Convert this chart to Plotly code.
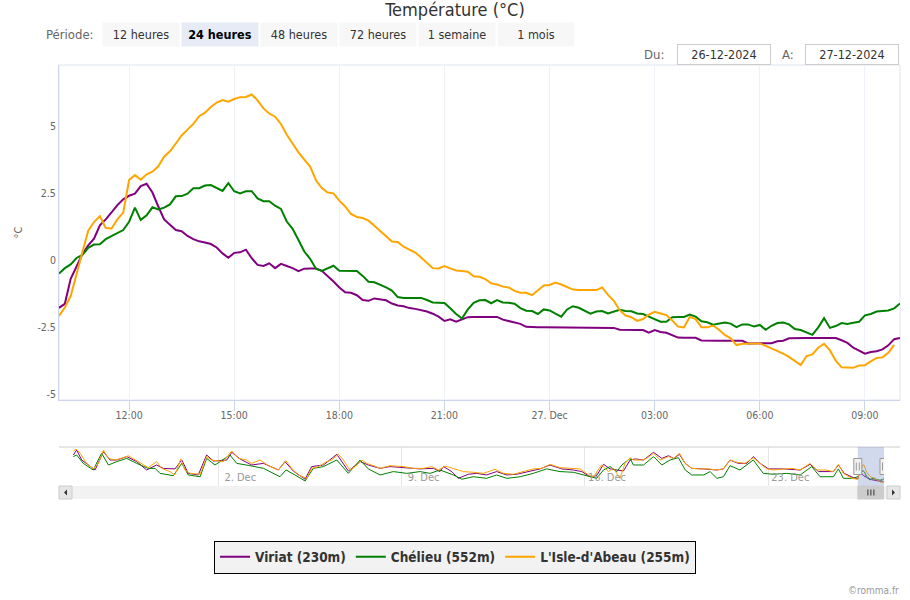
import pandas as pd
import plotly.graph_objects as go

# ---------------- data ----------------
start = pd.Timestamp("2024-12-26 10:00")
end = pd.Timestamp("2024-12-27 10:00")
times = pd.date_range(start, periods=145, freq="10min")

viriat = [-1.78, -1.63, -0.70, -0.26, 0.22, 0.55, 0.80, 1.30, 1.52, 1.78,
          2.05, 2.27, 2.40, 2.48, 2.76, 2.85, 2.52, 2.00, 1.52, 1.32,
          1.12, 1.08, 0.90, 0.78, 0.70, 0.66, 0.60, 0.47, 0.25, 0.09,
          0.27, 0.29, 0.39, 0.07, -0.18, -0.22, -0.12, -0.30, -0.14, -0.22,
          -0.30, -0.41, -0.32, -0.31, -0.31, -0.40, -0.59, -0.80, -1.02, -1.20,
          -1.22, -1.31, -1.49, -1.52, -1.43, -1.46, -1.50, -1.62, -1.69, -1.72,
          -1.79, -1.82, -1.87, -1.92, -2.00, -2.11, -2.27, -2.21, -2.30, -2.20,
          -2.13, -2.12, -2.12, -2.12, -2.12, -2.12, -2.22, -2.28, -2.33, -2.38,
          -2.49, -2.51, -2.51, -2.51, -2.51, -2.51, -2.51, -2.51, -2.51, -2.51,
          -2.51, -2.51, -2.51, -2.51, -2.51, -2.53, -2.60, -2.61, -2.61, -2.61,
          -2.61, -2.71, -2.61, -2.68, -2.71, -2.79, -2.89, -2.90, -2.90, -2.90,
          -3.00, -3.01, -3.01, -3.01, -3.01, -3.01, -3.01, -3.01, -3.11, -3.11,
          -3.11, -3.11, -3.10, -3.03, -3.01, -2.92, -2.91, -2.91, -2.91, -2.91,
          -2.91, -2.91, -2.91, -2.91, -2.99, -3.09, -3.27, -3.39, -3.49, -3.43,
          -3.40, -3.33, -3.18, -2.95, -2.91]

chelieu = [-0.50, -0.30, -0.16, 0.08, 0.19, 0.46, 0.58, 0.59, 0.78, 0.90,
           1.00, 1.12, 1.43, 1.96, 1.50, 1.67, 1.97, 1.89, 1.96, 2.08,
           2.38, 2.39, 2.48, 2.68, 2.68, 2.78, 2.80, 2.70, 2.58, 2.87,
           2.57, 2.49, 2.57, 2.57, 2.30, 2.20, 2.20, 2.03, 1.91, 1.44,
           1.17, 0.75, 0.32, 0.05, -0.32, -0.40, -0.30, -0.21, -0.40, -0.41,
           -0.41, -0.41, -0.59, -0.81, -0.83, -0.92, -1.02, -1.14, -1.38, -1.41,
           -1.41, -1.41, -1.41, -1.49, -1.58, -1.59, -1.60, -1.80, -2.01, -2.18,
           -1.84, -1.59, -1.50, -1.49, -1.61, -1.49, -1.58, -1.59, -1.63, -1.79,
           -1.89, -1.90, -2.01, -1.84, -1.88, -2.00, -2.11, -1.84, -1.72, -1.78,
           -1.88, -2.00, -1.92, -1.90, -1.99, -1.91, -1.85, -1.90, -1.91, -1.99,
           -2.01, -2.11, -2.21, -2.30, -2.30, -2.13, -2.12, -2.12, -2.03, -2.11,
           -2.28, -2.32, -2.41, -2.37, -2.33, -2.37, -2.50, -2.40, -2.40, -2.48,
           -2.42, -2.60, -2.45, -2.35, -2.33, -2.40, -2.57, -2.61, -2.69, -2.79,
           -2.51, -2.17, -2.53, -2.46, -2.35, -2.38, -2.34, -2.30, -2.06, -2.01,
           -1.92, -1.90, -1.88, -1.80, -1.62]

isle = [-2.08, -1.77, -1.34, -0.56, 0.28, 1.10, 1.42, 1.64, 1.20, 1.18,
        1.52, 1.77, 2.99, 3.17, 3.00, 3.20, 3.30, 3.50, 3.86, 4.06,
        4.35, 4.65, 4.87, 5.08, 5.37, 5.50, 5.71, 5.88, 5.97, 5.91,
        6.01, 6.08, 6.09, 6.18, 5.96, 5.66, 5.47, 5.35, 5.08, 4.68,
        4.35, 4.02, 3.75, 3.49, 2.98, 2.69, 2.52, 2.49, 2.22, 2.00,
        1.72, 1.61, 1.57, 1.47, 1.28, 1.08, 0.90, 0.69, 0.68, 0.50,
        0.39, 0.28, 0.10, -0.09, -0.30, -0.31, -0.22, -0.31, -0.39, -0.41,
        -0.43, -0.60, -0.62, -0.71, -0.87, -0.91, -0.99, -1.02, -1.15, -1.22,
        -1.22, -1.31, -1.12, -0.95, -0.93, -0.84, -0.91, -1.00, -1.10, -1.12,
        -1.12, -1.12, -1.12, -1.02, -1.30, -1.52, -1.87, -2.07, -2.13, -2.27,
        -2.20, -2.03, -1.93, -1.99, -2.05, -2.25, -2.48, -2.51, -2.12, -2.20,
        -2.51, -2.51, -2.44, -2.60, -2.79, -2.92, -3.17, -3.12, -3.11, -3.11,
        -3.11, -3.20, -3.29, -3.38, -3.49, -3.61, -3.78, -3.92, -3.58, -3.52,
        -3.27, -3.12, -3.37, -3.75, -4.00, -4.02, -4.02, -3.93, -3.92, -3.78,
        -3.65, -3.63, -3.46, -3.16, None]

series_names = ["Viriat (230m)", "Chélieu (552m)", "L'Isle-d'Abeau (255m)"]
series_colors = ["#800080", "#008000", "#FFA500"]

tick_times = ["2024-12-26 12:00", "2024-12-26 15:00", "2024-12-26 18:00",
              "2024-12-26 21:00", "2024-12-27 00:00", "2024-12-27 03:00",
              "2024-12-27 06:00", "2024-12-27 09:00"]
tick_labels = ["12:00", "15:00", "18:00", "21:00", "27. Dec", "03:00", "06:00", "09:00"]
y_ticks = [-5, -2.5, 0, 2.5, 5]
y_labels = ["-5", "-2.5", "0", "2.5", "5"]

# navigator (previous month), day offsets from 26 Nov 10:00
nav_start = pd.Timestamp("2024-11-26 10:00")
nav_viriat_d = [0.05, 0.18, 0.37, 0.88, 1.20, 1.45, 1.71, 2.09, 2.47, 2.85, 3.23, 3.49, 3.93, 4.19, 4.44,
                4.82, 5.14, 5.40, 5.91, 6.10, 6.41, 6.86, 7.31, 7.88, 8.13, 8.45, 8.90, 9.15, 9.60, 10.11,
                10.55, 11.00, 11.31, 11.76, 12.14, 12.78, 13.29, 13.80, 14.05, 14.18, 14.50, 14.75, 15.13,
                15.45, 15.83, 16.21, 16.60, 16.98, 17.42, 17.87, 18.25, 18.70, 19.14, 19.46, 19.78, 20.03,
                20.29, 20.54, 20.80, 21.05, 21.31,
                21.50, 21.82, 22.20, 22.52, 22.77, 22.97, 23.19, 23.41, 23.66, 24.11, 24.62, 24.87, 25.12,
                25.44, 25.76, 26.01, 26.27, 26.59, 27.16, 27.80, 28.18, 28.50, 29.07, 29.26, 29.48, 29.83]
nav_viriat_v = [11.6, 14.4, 8.8, 3.2, 13.5, 8.8, 8.8, 10.7, 7.9, 3.2, 6.0, 4.1, 3.8, 8.8, 1.3,
                0.4, 11.6, 8.2, 8.8, 13.1, 9.4, 6.0, 6.9, 3.2, 7.9, 2.6, -2.0, 5.1, 6.0, 12.0,
                2.6, 7.9, 6.0, 4.1, 5.1, 4.5, 3.8, 4.1, 2.3, 5.1, 2.3, -1.5, 0.8,
                1.3, 0.4, 2.3, 0.4, 0.8, 2.3, 3.8, 6.0, 3.8, 3.2, 2.3, -0.6, 0.0,
                6.4, 3.8, 3.2, 2.6, 8.8,
                9.4, 8.8, 13.1, 9.7, 11.2, 9.7, 12.0, 6.9, 4.1, 3.8, 3.2, 3.8, 8.8,
                6.9, 6.9, 10.7, 6.9, 3.8, 3.8, 3.2, 6.4, 2.3, 2.3, 6.0, 1.3, -1.1]

nav_chelieu_d = [0.05, 0.18, 0.43, 0.81, 1.13, 1.39, 1.71, 2.09, 2.47, 2.91, 3.17, 3.36, 3.87, 4.19, 4.44,
                 4.89, 5.14, 5.46, 6.03, 6.29, 6.80, 7.31, 7.94, 8.17, 8.51, 8.90, 9.21, 9.60, 10.11,
                 10.55, 11.00, 11.31, 11.76, 12.27, 12.78, 13.29, 13.67, 14.05, 14.56, 14.88, 15.32, 15.83,
                 16.21, 16.60, 17.11, 17.61, 18.12, 18.63, 19.14, 19.65, 20.03, 20.29, 20.54, 20.80, 20.99, 21.31,
                 21.43, 21.82, 22.20, 22.52, 22.83, 23.15, 23.41, 23.66, 24.11, 24.36, 24.62, 24.87, 25.12,
                 25.50, 26.01, 26.39, 26.77, 27.29, 27.80, 28.24, 28.56, 29.07, 29.26, 29.45, 29.83]
nav_chelieu_v = [10.7, 11.6, 6.9, 3.2, 12.6, 6.0, 7.9, 9.7, 6.9, 4.1, 4.1, 1.3, 0.0, 6.9, 0.4,
                 -0.6, 9.7, 6.0, 11.6, 6.9, 5.6, 4.1, -0.6, 3.2, 0.4, -3.0, 4.1, 5.1, 8.8,
                 1.3, 8.8, 3.8, 0.4, 2.3, 1.3, 2.3, 1.3, 3.2, 0.4, -2.0, -0.6, -1.5,
                 0.4, -1.5, -0.6, 1.3, 3.8, 2.3, 1.9, 0.0, -1.5, 3.2, 5.1, 2.3, 6.0, 9.7,
                 6.0, 6.0, 10.7, 6.0, 8.8, 10.1, 3.2, 0.4, 0.4, 2.3, -1.5, -0.6, 5.6,
                 3.2, 8.8, 1.3, 0.8, 1.3, 0.4, 5.1, -0.6, -0.6, 3.8, -1.5, -1.5]

nav_isle_d = [0.05, 0.15, 0.31, 0.56, 0.81, 1.01, 1.20, 1.39, 1.64, 1.90, 2.15, 2.41, 2.66, 2.91, 3.23,
              3.42, 3.74, 3.93, 4.15, 4.31, 4.51, 4.89, 5.14, 5.33, 5.78, 6.10, 6.35, 6.67, 6.86, 7.18,
              7.50, 7.88, 8.17, 8.39, 8.64, 8.96, 9.15, 9.41, 9.72, 9.91, 10.17,
              10.36, 10.61, 10.81, 11.06, 11.25, 11.51, 11.76, 12.14, 12.65, 13.03, 13.41, 13.73, 13.99,
              14.24, 14.56, 14.94, 15.32, 15.71, 16.15, 16.47, 16.85, 17.23, 17.61, 17.93, 18.25, 18.63,
              19.02, 19.40, 19.72, 19.91, 20.22, 20.48, 20.67, 20.92, 21.11, 21.31,
              21.43, 21.75, 21.94, 22.20, 22.45, 22.77, 22.97, 23.19, 23.41, 23.66, 23.98, 24.29, 24.62,
              24.87, 25.12, 25.38, 25.69, 26.01, 26.27, 26.52, 26.77, 27.16, 27.48, 27.80, 28.18, 28.43,
              28.75, 29.07, 29.26, 29.45, 29.77]
nav_isle_v = [13.5, 15.0, 12.6, 6.9, 3.8, 6.9, 14.4, 9.7, 8.8, 9.7, 11.2, 8.8, 6.4, 4.5, 7.9,
              4.1, 2.3, 0.4, 9.4, 3.2, 1.3, 0.8, 10.7, 8.8, 7.9, 13.9, 9.7, 8.8, 6.9, 8.8,
              5.6, 3.2, 8.3, 4.1, 0.4, -1.5, 4.1, 5.1, 7.9, 8.8, 12.0,
              8.8, 3.2, 5.1, 8.8, 6.9, 5.6, 4.1, 5.6, 5.1, 4.1, 4.1, 5.1, 3.2,
              5.4, 3.8, 2.3, 1.9, 1.3, 3.6, 1.3, 0.8, 2.3, 3.8, 4.1, 6.4, 4.5,
              4.1, 3.8, 0.4, -0.6, 6.0, 2.3, 4.1, -1.5, 6.9, 10.1,
              8.8, 8.8, 9.7, 12.6, 8.8, 10.7, 9.7, 12.6, 6.9, 4.1, 3.8, 3.8, 3.2,
              3.8, 8.8, 7.5, 6.9, 10.1, 6.9, 3.8, 3.2, 3.8, 4.1, 3.2, 6.9, 3.2,
              3.2, 2.3, 6.4, 1.3, -1.5]

nav_ticks = ["2024-12-02", "2024-12-09", "2024-12-16", "2024-12-23"]
nav_labels = ["2. Dec", "9. Dec", "16. Dec", "23. Dec"]

buttons = ["12 heures", "24 heures", "48 heures", "72 heures", "1 semaine", "1 mois"]
selected_button = "24 heures"

# ---------------- layout helpers ----------------
W, H = 910, 600
ML, MR, MT, MB = 59, 10, 65, 101
PW, PH = W - ML - MR, H - MT - MB


def px(x):
    return (x - ML) / PW


def py(y):
    return (H - MB - y) / PH


FONT = "DejaVu Sans Condensed, DejaVu Sans, sans-serif"

fig = go.Figure()

main_series = [viriat, chelieu, isle]
nav_series = [(nav_viriat_d, nav_viriat_v), (nav_chelieu_d, nav_chelieu_v), (nav_isle_d, nav_isle_v)]

for name, color, vals in zip(series_names, series_colors, main_series):
    fig.add_trace(go.Scatter(x=times, y=vals, mode="lines", name="<b>%s</b>" % name,
                             line=dict(color=color, width=2), xaxis="x", yaxis="y"))

for name, color, (d, v), vals in zip(series_names, series_colors, nav_series, main_series):
    nx = [nav_start + pd.Timedelta(days=k) for k in d] + list(times)
    ny = list(v) + list(vals)
    fig.add_trace(go.Scatter(x=nx, y=ny, mode="lines", line=dict(color=color, width=1),
                             showlegend=False, hoverinfo="skip", xaxis="x2", yaxis="y2"))

nav_top, nav_bot = 447, 486

shapes = []
# main plot border
shapes.append(dict(type="rect", xref="x domain", yref="y domain", x0=0, x1=1, y0=0, y1=1,
                   line=dict(color="#dfe7f2", width=1), layer="below"))
# navigator top outline
shapes.append(dict(type="line", xref="paper", yref="paper", x0=0, x1=1, y0=py(nav_top), y1=py(nav_top),
                   line=dict(color="#cccccc", width=1)))
# navigator mask
shapes.append(dict(type="rect", xref="x2", yref="y2 domain", x0=start, x1=end, y0=0, y1=1,
                   fillcolor="rgba(102,133,194,0.3)", line=dict(width=0), layer="above"))
# scrollbar track
shapes.append(dict(type="rect", xref="paper", yref="paper", x0=0, x1=1, y0=0, y1=py(nav_bot),
                   fillcolor="#f2f2f2", line=dict(width=0)))
# scrollbar buttons
shapes.append(dict(type="rect", xref="paper", yref="paper", x0=px(59), x1=px(72), y0=0, y1=py(nav_bot),
                   fillcolor="#e6e6e6", line=dict(color="#cccccc", width=1)))
shapes.append(dict(type="rect", xref="paper", yref="paper", x0=px(887), x1=px(900), y0=0, y1=py(nav_bot),
                   fillcolor="#e6e6e6", line=dict(color="#cccccc", width=1)))
cy = 492.5
shapes.append(dict(type="path", xref="paper", yref="paper",
                   path="M %f %f L %f %f L %f %f Z" % (px(64), py(cy), px(67), py(cy - 3), px(67), py(cy + 3)),
                   fillcolor="#333333", line=dict(width=0)))
shapes.append(dict(type="path", xref="paper", yref="paper",
                   path="M %f %f L %f %f L %f %f Z" % (px(895), py(cy), px(892), py(cy - 3), px(892), py(cy + 3)),
                   fillcolor="#333333", line=dict(width=0)))
# scrollbar thumb
shapes.append(dict(type="rect", xref="x2", yref="paper", x0=start, x1=end, y0=0, y1=py(nav_bot),
                   fillcolor="#cccccc", line=dict(color="#cccccc", width=1)))
mid = start + (end - start) / 2
for off in (-3, 0, 3):
    shapes.append(dict(type="line", xref="x2", yref="paper", xsizemode="pixel", xanchor=mid,
                       x0=off, x1=off, ysizemode="pixel", yanchor=py(cy), y0=-3, y1=3,
                       line=dict(color="#333333", width=1)))
# navigator handles
for t in (start, end):
    shapes.append(dict(type="rect", xref="x2", yref="y2 domain", xsizemode="pixel", xanchor=t,
                       x0=-4, x1=4, ysizemode="pixel", yanchor=0.5, y0=-8, y1=8,
                       fillcolor="#f2f2f2", line=dict(color="#999999", width=1), layer="above"))
    for off in (-1.5, 1.5):
        shapes.append(dict(type="line", xref="x2", yref="y2 domain", xsizemode="pixel", xanchor=t,
                           x0=off, x1=off, ysizemode="pixel", yanchor=0.5, y0=-4, y1=4,
                           line=dict(color="#999999", width=1), layer="above"))

annotations = []
# range selector
annotations.append(dict(xref="paper", yref="paper", x=px(96), y=py(34), xanchor="right", yanchor="middle",
                        text="Période:", showarrow=False, font=dict(family=FONT, size=13, color="#666666")))
bx = 104
for b in buttons:
    sel = b == selected_button
    annotations.append(dict(xref="paper", yref="paper", x=px(bx + 37), y=py(34), xanchor="center",
                            yanchor="middle", width=74, height=21, showarrow=False,
                            text=("<b>%s</b>" % b) if sel else b,
                            bgcolor="#e6ebf5" if sel else "#f7f7f7",
                            font=dict(family=FONT, size=12.5, color="#000000" if sel else "#333333")))
    bx += 79
# date inputs
annotations.append(dict(xref="paper", yref="paper", x=px(666), y=py(54), xanchor="right", yanchor="middle",
                        text="Du:", showarrow=False, font=dict(family=FONT, size=13, color="#666666")))
annotations.append(dict(xref="paper", yref="paper", x=px(724), y=py(54), xanchor="center", yanchor="middle",
                        text="26-12-2024", showarrow=False, width=92, height=19, bordercolor="#cccccc",
                        borderwidth=1, borderpad=0, bgcolor="#ffffff",
                        font=dict(family=FONT, size=12.5, color="#333333")))
annotations.append(dict(xref="paper", yref="paper", x=px(796), y=py(54), xanchor="right", yanchor="middle",
                        text="A:", showarrow=False, font=dict(family=FONT, size=13, color="#666666")))
annotations.append(dict(xref="paper", yref="paper", x=px(852), y=py(54), xanchor="center", yanchor="middle",
                        text="27-12-2024", showarrow=False, width=92, height=19, bordercolor="#cccccc",
                        borderwidth=1, borderpad=0, bgcolor="#ffffff",
                        font=dict(family=FONT, size=12.5, color="#333333")))
# credit
annotations.append(dict(xref="paper", yref="paper", x=px(901), y=py(590), xanchor="right", yanchor="middle",
                        text="©romma.fr", showarrow=False, font=dict(family=FONT, size=10, color="#999999")))

fig.update_layout(
    width=W, height=H,
    margin=dict(l=ML, r=MR, t=MT, b=MB),
    paper_bgcolor="white", plot_bgcolor="white",
    font=dict(family=FONT, size=11, color="#666666"),
    title=dict(text="Température (°C)", x=0.5, xanchor="center", y=1 - 10 / H, yanchor="middle",
               font=dict(family=FONT, size=18, color="#333333")),
    xaxis=dict(domain=[0, 1], anchor="y", type="date", range=[start, end],
               tickvals=tick_times, ticktext=tick_labels, showgrid=True, gridcolor="#eef2f8",
               ticks="outside", ticklen=10, tickcolor="#ccd6eb", showline=True, linecolor="#ccd6eb",
               ticklabelstandoff=-5,
               linewidth=1, zeroline=False, tickfont=dict(family=FONT, size=10.5, color="#666666")),
    yaxis=dict(domain=[py(400), 1], anchor="x", range=[-5.22, 7.28], tickvals=y_ticks, ticktext=y_labels,
               showgrid=False, zeroline=False, showline=True, linecolor="#ccd6eb", linewidth=1,
               ticks="", tickfont=dict(family=FONT, size=10.5, color="#666666"),
               title=dict(text="°C", standoff=12, font=dict(family=FONT, size=11, color="#666666"))),
    xaxis2=dict(domain=[px(72), px(884)], anchor="y2", type="date",
                range=[nav_start, end], tickvals=nav_ticks, ticktext=nav_labels,
                showgrid=True, gridcolor="#e6e6e6", showline=False, zeroline=False, ticks="",
                ticklabelposition="inside", ticklabelshift=22,
                tickfont=dict(family=FONT, size=11, color="#999999")),
    yaxis2=dict(domain=[py(nav_bot), py(nav_top)], anchor="x2", range=[-5.8, 16.1], visible=False),
    showlegend=True,
    legend=dict(orientation="h", x=px(455), y=py(557), xanchor="center", yanchor="middle",
                bgcolor="#f2f2f2", bordercolor="#000000", borderwidth=1,
                font=dict(family=FONT, size=13.5, color="#333333")),
    shapes=shapes, annotations=annotations,
)

fig.write_html("out.html", config={"displayModeBar": False},
               post_script="document.body.style.margin='0px';")
